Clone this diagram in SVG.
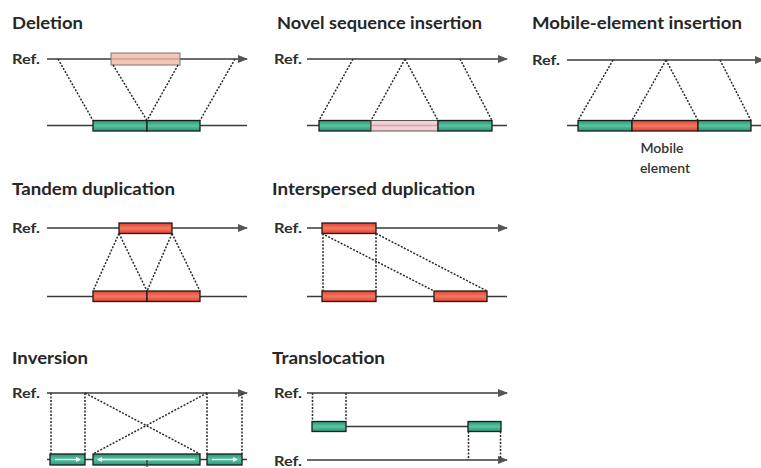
<svg xmlns="http://www.w3.org/2000/svg" width="761" height="468" viewBox="0 0 761 468">
<defs>
<linearGradient id="gGreen" x1="0" y1="0" x2="0" y2="1">
<stop offset="0" stop-color="#23977a"/><stop offset="0.5" stop-color="#5cc4a0"/><stop offset="1" stop-color="#23977a"/>
</linearGradient>
<linearGradient id="gRed" x1="0" y1="0" x2="0" y2="1">
<stop offset="0" stop-color="#e2402f"/><stop offset="0.5" stop-color="#f27a62"/><stop offset="1" stop-color="#e2402f"/>
</linearGradient>
<marker id="arr" viewBox="0 0 10 8" refX="9" refY="4" markerWidth="10" markerHeight="8" markerUnits="userSpaceOnUse" orient="auto">
<path d="M0,0 L10,4 L0,8 Z" fill="#555"/>
</marker>
<marker id="warr" viewBox="0 0 6 6" refX="5" refY="3" markerWidth="5" markerHeight="5" markerUnits="userSpaceOnUse" orient="auto">
<path d="M0,0 L6,3 L0,6 Z" fill="#fff"/>
</marker>
</defs>
<style>
.title{font-family:"Lato","Open Sans",sans-serif;font-weight:bold;font-size:17.5px;fill:#262626}
.ref{font-family:"Lato","Open Sans",sans-serif;font-weight:bold;font-size:14px;fill:#2e2e2e}
.lbl{font-family:"Lato","Open Sans",sans-serif;font-weight:600;font-size:14px;fill:#333}
.line{stroke:#3a3a3a;stroke-width:1.3;fill:none}
.dash{stroke:#2a2a2a;stroke-width:1.5;stroke-dasharray:2 1.5;fill:none}
.green{fill:url(#gGreen);stroke:#1c1c1c;stroke-width:1.3}
.red{fill:url(#gRed);stroke:#1c1c1c;stroke-width:1.3}
.pinkd{fill:#f2b7a6;fill-opacity:0.8;stroke:#777;stroke-width:1}
.pinkn{fill:#f4c3c9;fill-opacity:0.8;stroke:#555;stroke-width:1}
.warrow{stroke:#fff;stroke-width:1.3;fill:none}
</style>

<!-- Deletion -->
<g id="deletion">
<text class="title" x="12" y="29" textLength="71" lengthAdjust="spacingAndGlyphs">Deletion</text>
<text class="ref" x="12" y="64" textLength="28" lengthAdjust="spacingAndGlyphs">Ref.</text>
<line class="line" x1="47" y1="59" x2="247" y2="59" marker-end="url(#arr)"/>
<line class="line" x1="47" y1="125.5" x2="247" y2="125.5"/>
<g id="del-ref-box"><rect class="pinkd" x="111" y="53" width="69" height="12"/></g>
<g id="del-box1"><rect class="green" x="93" y="120.5" width="54" height="10.5"/></g>
<g id="del-box2"><rect class="green" x="147" y="120.5" width="53" height="10.5"/></g>
<g id="del-connectors">
<line class="dash" x1="58" y1="59" x2="93" y2="120.5"/>
<line class="dash" x1="113" y1="65" x2="147" y2="120.5"/>
<line class="dash" x1="178" y1="65" x2="147" y2="120.5"/>
<line class="dash" x1="235" y1="59" x2="200" y2="120.5"/>
</g>
</g>

<!-- Novel sequence insertion -->
<g id="novel">
<text class="title" x="277" y="29" textLength="205" lengthAdjust="spacingAndGlyphs">Novel sequence insertion</text>
<text class="ref" x="274" y="64" textLength="28" lengthAdjust="spacingAndGlyphs">Ref.</text>
<line class="line" x1="307" y1="59" x2="507" y2="59" marker-end="url(#arr)"/>
<line class="line" x1="307" y1="125.5" x2="507" y2="125.5"/>
<g id="nov-box1"><rect class="green" x="319" y="120.5" width="52" height="10.5"/></g>
<g id="nov-ins"><rect class="pinkn" x="371" y="120.5" width="67" height="10.5"/></g>
<g id="nov-box2"><rect class="green" x="438" y="120.5" width="54" height="10.5"/></g>
<g id="nov-connectors">
<line class="dash" x1="353" y1="59" x2="319" y2="120.5"/>
<line class="dash" x1="405" y1="59" x2="371" y2="120.5"/>
<line class="dash" x1="405" y1="59" x2="438" y2="120.5"/>
<line class="dash" x1="460" y1="59" x2="492" y2="120.5"/>
</g>
</g>

<!-- Mobile-element insertion -->
<g id="mobile">
<text class="title" x="532" y="29" textLength="210" lengthAdjust="spacingAndGlyphs">Mobile-element insertion</text>
<text class="ref" x="532" y="65" textLength="28" lengthAdjust="spacingAndGlyphs">Ref.</text>
<line class="line" x1="567" y1="60" x2="764" y2="60" marker-end="url(#arr)"/>
<line class="line" x1="567" y1="125.5" x2="761" y2="125.5"/>
<g id="mob-box1"><rect class="green" x="578" y="120.5" width="54" height="10.5"/></g>
<g id="mob-element"><rect class="red" x="632" y="120.5" width="66" height="10.5"/>
<text class="lbl" x="662" y="153" text-anchor="middle">Mobile</text>
<text class="lbl" x="665" y="173" text-anchor="middle">element</text></g>
<g id="mob-box2"><rect class="green" x="698" y="120.5" width="53" height="10.5"/></g>
<g id="mob-connectors">
<line class="dash" x1="613" y1="60" x2="578" y2="120.5"/>
<line class="dash" x1="666" y1="60" x2="632" y2="120.5"/>
<line class="dash" x1="666" y1="60" x2="698" y2="120.5"/>
<line class="dash" x1="720" y1="60" x2="751" y2="120.5"/>
</g>
</g>

<!-- Tandem duplication -->
<g id="tandem">
<text class="title" x="12" y="195" textLength="163" lengthAdjust="spacingAndGlyphs">Tandem duplication</text>
<text class="ref" x="12" y="233" textLength="28" lengthAdjust="spacingAndGlyphs">Ref.</text>
<line class="line" x1="47" y1="228" x2="247" y2="228" marker-end="url(#arr)"/>
<line class="line" x1="47" y1="296.5" x2="247" y2="296.5"/>
<g id="tan-ref-box"><rect class="red" x="119" y="223" width="53" height="10.5"/></g>
<g id="tan-box1"><rect class="red" x="93" y="291" width="54" height="10.5"/></g>
<g id="tan-box2"><rect class="red" x="147" y="291" width="53" height="10.5"/></g>
<g id="tan-connectors">
<line class="dash" x1="119" y1="233.5" x2="93" y2="291"/>
<line class="dash" x1="119" y1="233.5" x2="147" y2="291"/>
<line class="dash" x1="172" y1="233.5" x2="147" y2="291"/>
<line class="dash" x1="172" y1="233.5" x2="200" y2="291"/>
</g>
</g>

<!-- Interspersed duplication -->
<g id="interspersed">
<text class="title" x="272" y="195" textLength="203" lengthAdjust="spacingAndGlyphs">Interspersed duplication</text>
<text class="ref" x="274" y="233" textLength="28" lengthAdjust="spacingAndGlyphs">Ref.</text>
<line class="line" x1="307" y1="228" x2="507" y2="228" marker-end="url(#arr)"/>
<line class="line" x1="307" y1="296.5" x2="507" y2="296.5"/>
<g id="int-ref-box"><rect class="red" x="322" y="223" width="54" height="10.5"/></g>
<g id="int-box1"><rect class="red" x="322" y="291" width="54" height="10.5"/></g>
<g id="int-box2"><rect class="red" x="434" y="291" width="53" height="10.5"/></g>
<g id="int-connectors">
<line class="dash" x1="323" y1="233.5" x2="323" y2="291"/>
<line class="dash" x1="376" y1="233.5" x2="376" y2="291"/>
<line class="dash" x1="322" y1="233.5" x2="434" y2="291"/>
<line class="dash" x1="376" y1="233.5" x2="487" y2="291"/>
</g>
</g>

<!-- Inversion -->
<g id="inversion">
<text class="title" x="12" y="364" textLength="76" lengthAdjust="spacingAndGlyphs">Inversion</text>
<text class="ref" x="12" y="398" textLength="28" lengthAdjust="spacingAndGlyphs">Ref.</text>
<line class="line" x1="47" y1="393" x2="247" y2="393" marker-end="url(#arr)"/>
<line class="line" x1="47" y1="459.5" x2="247" y2="459.5"/>
<g id="inv-box1"><rect class="green" x="50" y="454" width="35" height="11"/>
<line class="warrow" x1="55" y1="459.5" x2="80" y2="459.5" marker-end="url(#warr)"/></g>
<g id="inv-box2"><rect class="green" x="93" y="454" width="107" height="11"/>
<line class="warrow" x1="195" y1="459.5" x2="98" y2="459.5" marker-end="url(#warr)"/>
<line class="line" x1="147" y1="460" x2="147" y2="467"/></g>
<g id="inv-box3"><rect class="green" x="207" y="454" width="35" height="11"/>
<line class="warrow" x1="212" y1="459.5" x2="237" y2="459.5" marker-end="url(#warr)"/></g>
<g id="inv-connectors">
<line class="dash" x1="51" y1="393" x2="51" y2="454"/>
<line class="dash" x1="85" y1="393" x2="85" y2="454"/>
<line class="dash" x1="85" y1="393" x2="200" y2="454"/>
<line class="dash" x1="207" y1="393" x2="93" y2="454"/>
<line class="dash" x1="207" y1="393" x2="207" y2="454"/>
<line class="dash" x1="242" y1="393" x2="242" y2="454"/>
</g>
</g>

<!-- Translocation -->
<g id="translocation">
<text class="title" x="272" y="364" textLength="113" lengthAdjust="spacingAndGlyphs">Translocation</text>
<text class="ref" x="274" y="398" textLength="28" lengthAdjust="spacingAndGlyphs">Ref.</text>
<text class="ref" x="274" y="466" textLength="28" lengthAdjust="spacingAndGlyphs">Ref.</text>
<line class="line" x1="307" y1="393" x2="507" y2="393" marker-end="url(#arr)"/>
<line class="line" x1="307" y1="460" x2="507" y2="460" marker-end="url(#arr)"/>
<line class="line" x1="346" y1="426.5" x2="468" y2="426.5"/>
<g id="tra-box1"><rect class="green" x="312" y="421.5" width="34" height="10"/></g>
<g id="tra-box2"><rect class="green" x="468" y="421.5" width="33" height="10"/></g>
<g id="tra-connectors">
<line class="dash" x1="312.5" y1="393" x2="312.5" y2="421.5"/>
<line class="dash" x1="346" y1="393" x2="346" y2="421.5"/>
<line class="dash" x1="468.5" y1="431.5" x2="468.5" y2="460"/>
<line class="dash" x1="500.5" y1="431.5" x2="500.5" y2="460"/>
</g>
</g>
</svg>
